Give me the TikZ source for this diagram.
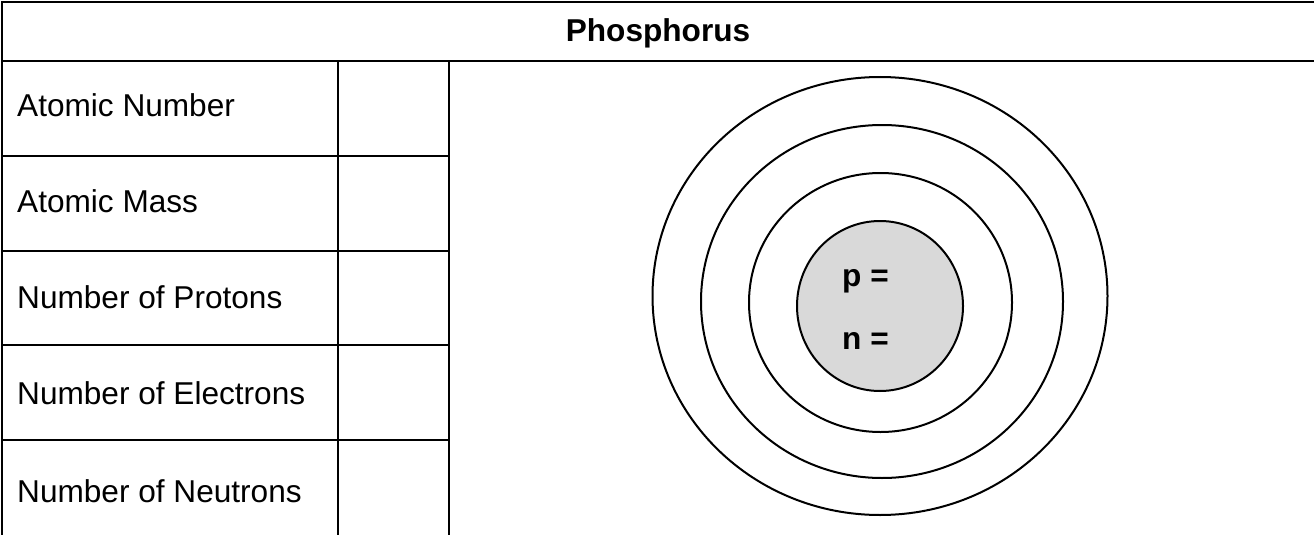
\documentclass[tikz,border=0pt]{standalone}
\usepackage{fontspec}
\setmainfont{Liberation Sans}
\definecolor{nucgray}{HTML}{D9D9D9}
\begin{document}
\begin{tikzpicture}[x=1pt,y=-1pt,
  rule/.style={line width=2pt, line cap=rect},
  shell/.style={line width=2pt, draw=black},
  lbl/.style={anchor=base west, inner sep=0pt, font=\fontsize{31.6}{38}\selectfont},
  nuclbl/.style={anchor=base west, inner sep=0pt, font=\fontsize{31.6}{38}\selectfont\bfseries}]
\useasboundingbox (0,0) rectangle (1314,535);
% table rules
\draw[rule] (2,535) -- (2,2) -- (1314,2);
\draw[rule] (2,61.5) -- (1314,61.5);
\draw[rule] (338,61.5) -- (338,535);
\draw[rule] (449,61.5) -- (449,535);
\foreach \yy in {156,250.5,345,439.5} \draw[rule] (2,\yy) -- (449,\yy);
% title
\node[anchor=base, inner sep=0pt, font=\fontsize{31.6}{38}\selectfont\bfseries] (title) at (658,42) {Phosphorus};
% row labels
\node[lbl] (an) at (17,116) {Atomic Number};
\node[lbl] (am) at (17,212) {Atomic Mass};
\node[lbl] (np) at (17,308) {Number of Protons};
\node[lbl] (ne) at (17,404) {Number of Electrons};
\node[lbl] (nn) at (17,502) {Number of Neutrons};
% atom
\draw[shell] (880,296) ellipse [x radius=227.5, y radius=219];
\draw[shell] (882,301.5) ellipse [x radius=181, y radius=176.5];
\draw[shell] (880.5,302.5) ellipse [x radius=131.5, y radius=129.5];
\draw[shell, fill=nucgray] (880,306) ellipse [x radius=83, y radius=85];
\node[nuclbl] (p) at (842,286) {p =};
\node[nuclbl] (n) at (842,349) {n =};
\end{tikzpicture}
\end{document}
